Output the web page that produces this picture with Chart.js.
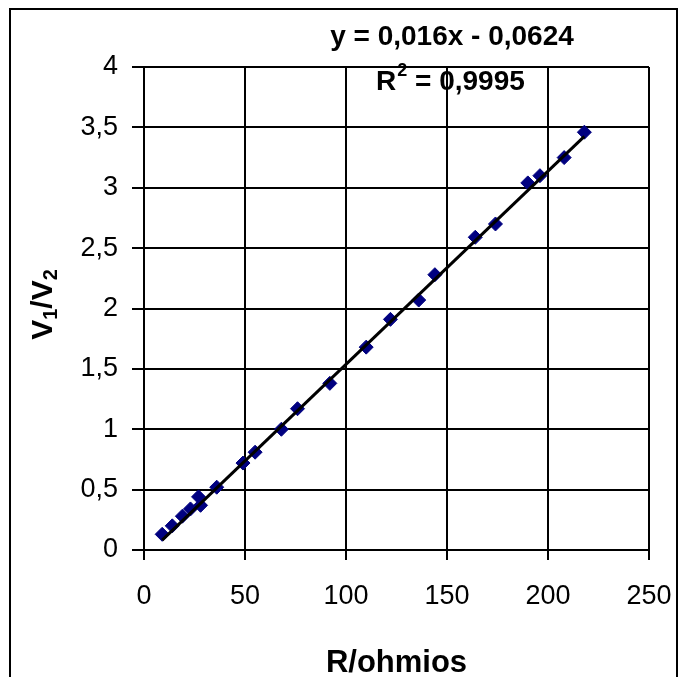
<!DOCTYPE html>
<html>
<head>
<meta charset="utf-8">
<script src="https://cdn.jsdelivr.net/npm/chart.js@4.4.1/dist/chart.umd.min.js"></script>
<style>
  html, body { margin: 0; padding: 0; background: #fff; }
  #wrap { width: 683px; height: 677px; }
</style>
</head>
<body>
<div id="wrap"><canvas id="chart-1"></canvas></div>
<script>
const resistance = [9, 14, 19, 23, 27, 28, 36, 49, 55, 68, 76, 92, 110, 122, 136, 144, 164, 174, 190, 196, 208, 218];
const ratio = [0.13, 0.20, 0.28, 0.34, 0.44, 0.37, 0.52, 0.72, 0.81, 1.00, 1.17, 1.38, 1.68, 1.91, 2.07, 2.28, 2.59, 2.70, 3.04, 3.10, 3.25, 3.46];

const xTicks = [0, 50, 100, 150, 200, 250];
const yTicks = [0, 0.5, 1, 1.5, 2, 2.5, 3, 3.5, 4];

// regression shown on the chart
const slope = 0.016;
const intercept = -0.0624;
const r2Text = "0,9995";

const FONT = "'Liberation Sans', Arial, sans-serif";

const xMin = Math.min(...resistance);
const xMax = Math.max(...resistance);
const trend = [
  { x: xMin, y: slope * xMin + intercept },
  { x: xMax, y: slope * xMax + intercept },
];

const comma = (v) => String(v).replace(".", ",");

// frame, axis titles and the equation labels
const extras = {
  id: "extras",
  beforeDraw(chart) {
    const c = chart.ctx;
    c.save();
    c.fillStyle = "#fff";
    c.fillRect(0, 0, chart.width, chart.height);
    c.restore();
  },
  afterDraw(chart) {
    const c = chart.ctx;
    const a = chart.chartArea;
    c.save();
    c.strokeStyle = "#000";
    c.lineWidth = 2;
    c.strokeRect(10, 9, 667, 700);

    c.fillStyle = "#000";
    // x title
    c.font = "bold 31px " + FONT;
    c.textAlign = "center";
    c.textBaseline = "alphabetic";
    c.fillText("R/ohmios", (a.left + a.right) / 2, a.bottom + 122);

    // y title with subscripts
    c.save();
    c.translate(a.left - 103, (a.top + a.bottom) / 2 - 4);
    c.rotate(-Math.PI / 2);
    const parts = [["V", 30, 0], ["1", 20, 5], ["/V", 30, 0], ["2", 20, 5]];
    let w = 0;
    parts.forEach(p => { c.font = "bold " + p[1] + "px " + FONT; w += c.measureText(p[0]).width; });
    let px = -w / 2;
    c.textAlign = "left";
    parts.forEach(p => {
      c.font = "bold " + p[1] + "px " + FONT;
      c.fillText(p[0], px, 11 + p[2]);
      px += c.measureText(p[0]).width;
    });
    c.restore();

    // trendline equation
    c.font = "bold 28px " + FONT;
    c.textAlign = "center";
    const sign = intercept < 0 ? " - " : " + ";
    c.fillText("y = " + comma(slope) + "x" + sign + comma(Math.abs(intercept)), a.left + 308, a.top - 22);

    // R squared
    c.textAlign = "left";
    let rx = a.left + 232;
    const ry = a.top + 23;
    c.font = "bold 28px " + FONT;
    c.fillText("R", rx, ry);
    rx += c.measureText("R").width + 1;
    c.font = "bold 18px " + FONT;
    c.fillText("2", rx, ry - 14);
    rx += c.measureText("2").width;
    c.font = "bold 28px " + FONT;
    c.fillText(" = " + r2Text, rx, ry);
    c.restore();
  },
};

const ctx1 = document.getElementById("chart-1").getContext("2d");
const myChart = new Chart(ctx1, {
  type: "scatter",
  data: {
    datasets: [
      {
        label: "trend",
        type: "line",
        data: trend,
        borderColor: "#000",
        borderWidth: 3,
        pointRadius: 0,
        fill: false,
        order: 0,
      },
      {
        label: "V1/V2",
        data: resistance.map((r, i) => ({ x: r, y: ratio[i] })),
        pointStyle: "rectRot",
        pointRadius: 7,
        backgroundColor: "#000080",
        borderColor: "#000080",
        borderWidth: 1,
        order: 1,
      },
    ],
  },
  options: {
    responsive: true,
    maintainAspectRatio: false,
    animation: false,
    layout: { padding: { top: 67, right: 34, left: 0, bottom: 0 } },
    plugins: {
      legend: { display: false },
      tooltip: { enabled: false },
    },
    scales: {
      x: {
        type: "linear",
        min: xTicks[0],
        max: xTicks[xTicks.length - 1],
        afterBuildTicks: (s) => { s.ticks = xTicks.map(v => ({ value: v })); },
        afterFit: (s) => { s.height = 127; s.paddingLeft = 0; s.paddingRight = 0; },
        grid: { color: "#000", lineWidth: 2, tickLength: 10 },
        border: { color: "#000", width: 2 },
        ticks: {
          color: "#000",
          padding: 20,
          font: { family: FONT, size: 27 },
          callback: (v) => comma(v),
        },
      },
      y: {
        type: "linear",
        min: yTicks[0],
        max: yTicks[yTicks.length - 1],
        afterBuildTicks: (s) => { s.ticks = yTicks.map(v => ({ value: v })); },
        afterFit: (s) => { s.width = 144; s.paddingTop = 0; s.paddingBottom = 0; },
        grid: { color: "#000", lineWidth: 2, tickLength: 12 },
        border: { color: "#000", width: 2 },
        ticks: {
          color: "#000",
          padding: 14,
          font: { family: FONT, size: 27 },
          callback: (v) => comma(v),
        },
      },
    },
  },
  plugins: [extras],
});
</script>
</body>
</html>
